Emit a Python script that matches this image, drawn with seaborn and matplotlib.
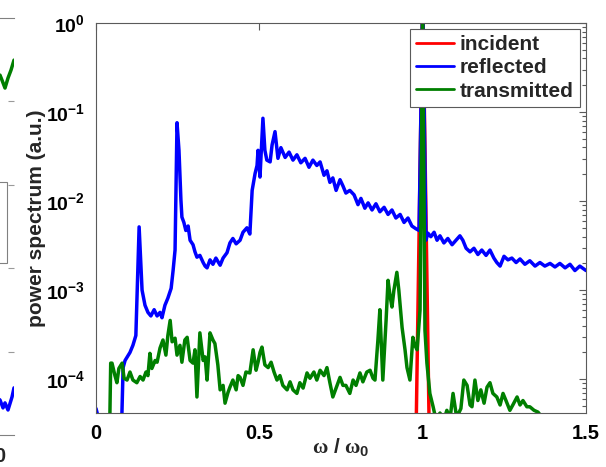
import numpy as np
import pandas as pd
import matplotlib
matplotlib.use("Agg")
import matplotlib.pyplot as plt
from matplotlib.ticker import LogLocator, NullLocator, FixedLocator
from matplotlib.patches import Rectangle
import seaborn as sns

sns.set_style("white")
plt.rcParams['font.family'] = ['Liberation Sans', 'DejaVu Sans']
plt.rcParams['font.weight'] = 'bold'
plt.rcParams['mathtext.fontset'] = 'custom'
plt.rcParams['mathtext.bf'] = 'Liberation Sans:bold'
plt.rcParams['mathtext.rm'] = 'Liberation Serif'
plt.rcParams['mathtext.it'] = 'Liberation Serif'

# ---------------- data (omega / omega0, log10 of power) ----------------
series_names = ["incident", "reflected", "transmitted"]
series_colors = ["#ff0000", "#0000ff", "#007f00"]

inc_x = [0.0, 0.90, 0.97, 1.00, 1.03, 1.10, 1.50]
inc_log = [-8.0, -8.0, -7.0, 0.3, -7.0, -8.0, -8.0]

refl_x = [0.000, 0.009, 0.020, 0.075, 0.083, 0.089, 0.104, 0.113, 0.122, 0.132, 0.138, 0.141,
          0.150, 0.159, 0.168, 0.178, 0.187, 0.196, 0.202, 0.211, 0.220, 0.230, 0.236, 0.242,
          0.248, 0.254, 0.260, 0.263, 0.269, 0.275, 0.282, 0.288, 0.297, 0.303, 0.309, 0.318,
          0.328, 0.334, 0.340, 0.349, 0.358, 0.367, 0.380, 0.389, 0.401, 0.410, 0.419, 0.429,
          0.441, 0.450, 0.462, 0.471, 0.478, 0.487, 0.493, 0.496, 0.502, 0.511, 0.517, 0.523,
          0.533, 0.539, 0.548, 0.557, 0.566, 0.579, 0.591, 0.603, 0.615, 0.627, 0.640, 0.652,
          0.664, 0.676, 0.686, 0.698, 0.707, 0.716, 0.725, 0.735, 0.747, 0.756, 0.765, 0.777,
          0.790, 0.802, 0.811, 0.823, 0.833, 0.845, 0.857, 0.869, 0.882, 0.894, 0.906, 0.918,
          0.931, 0.943, 0.955, 0.967, 0.979, 0.989, 1.000, 1.010, 1.016, 1.025, 1.035, 1.044,
          1.053, 1.065, 1.077, 1.090, 1.102, 1.114, 1.123, 1.133, 1.145, 1.157, 1.169, 1.181,
          1.194, 1.206, 1.218, 1.227, 1.237, 1.249, 1.261, 1.273, 1.286, 1.298, 1.313, 1.328,
          1.344, 1.359, 1.374, 1.390, 1.405, 1.420, 1.436, 1.451, 1.466, 1.481, 1.500]
refl_log = [-4.33, -4.46, -5.0, -5.0, -3.87, -3.79, -3.70, -3.62, -3.51, -2.29, -2.78, -3.00,
            -3.17, -3.25, -3.29, -3.22, -3.29, -3.25, -3.31, -3.17, -3.09, -2.98, -2.78, -2.55,
            -1.12, -1.43, -1.99, -2.18, -2.24, -2.33, -2.28, -2.44, -2.49, -2.57, -2.63, -2.61,
            -2.69, -2.73, -2.75, -2.66, -2.71, -2.64, -2.72, -2.64, -2.58, -2.47, -2.42, -2.48,
            -2.44, -2.35, -2.30, -2.37, -1.88, -1.69, -1.60, -1.43, -1.73, -1.07, -1.43, -1.54,
            -1.56, -1.37, -1.22, -1.52, -1.40, -1.51, -1.45, -1.54, -1.48, -1.57, -1.52, -1.62,
            -1.54, -1.60, -1.56, -1.71, -1.66, -1.79, -1.74, -1.88, -1.76, -1.83, -1.91, -1.88,
            -1.93, -2.04, -1.97, -2.08, -2.02, -2.10, -2.03, -2.12, -2.07, -2.15, -2.10, -2.19,
            -2.15, -2.24, -2.19, -2.28, -2.31, -2.33, 0.30, -2.44, -2.36, -2.40, -2.35, -2.44,
            -2.39, -2.47, -2.42, -2.49, -2.44, -2.39, -2.44, -2.53, -2.57, -2.53, -2.60, -2.55,
            -2.61, -2.55, -2.64, -2.69, -2.73, -2.62, -2.66, -2.64, -2.69, -2.65, -2.71, -2.67,
            -2.73, -2.69, -2.73, -2.70, -2.74, -2.70, -2.75, -2.71, -2.78, -2.73, -2.78]

trans_x = [0.000, 0.040, 0.045, 0.049, 0.058, 0.064, 0.070, 0.080, 0.086, 0.095, 0.104, 0.113,
           0.125, 0.135, 0.144, 0.153, 0.159, 0.165, 0.171, 0.181, 0.187, 0.196, 0.205, 0.214,
           0.220, 0.227, 0.233, 0.242, 0.248, 0.257, 0.263, 0.272, 0.279, 0.288, 0.297, 0.303,
           0.309, 0.318, 0.328, 0.334, 0.340, 0.349, 0.358, 0.364, 0.373, 0.380, 0.389, 0.395,
           0.404, 0.410, 0.419, 0.429, 0.435, 0.441, 0.450, 0.459, 0.471, 0.481, 0.490, 0.496,
           0.502, 0.508, 0.517, 0.527, 0.536, 0.545, 0.554, 0.563, 0.572, 0.585, 0.594, 0.603,
           0.615, 0.624, 0.634, 0.646, 0.655, 0.667, 0.676, 0.686, 0.698, 0.707, 0.716, 0.725,
           0.735, 0.747, 0.756, 0.765, 0.777, 0.787, 0.796, 0.808, 0.817, 0.829, 0.839, 0.848,
           0.854, 0.863, 0.869, 0.878, 0.888, 0.894, 0.900, 0.906, 0.912, 0.921, 0.927, 0.937,
           0.946, 0.952, 0.961, 0.970, 0.976, 0.983, 0.992, 1.000, 1.007, 1.013, 1.022, 1.032,
           1.041, 1.053, 1.065, 1.074, 1.084, 1.093, 1.102, 1.108, 1.117, 1.126, 1.136, 1.145,
           1.151, 1.160, 1.169, 1.178, 1.188, 1.197, 1.206, 1.215, 1.227, 1.237, 1.246, 1.255,
           1.267, 1.276, 1.289, 1.298, 1.307, 1.319, 1.328, 1.341, 1.353, 1.368, 1.384, 1.500]
trans_log = [-5.0, -5.0, -3.82, -3.82, -3.96, -4.04, -3.88, -3.82, -3.99, -4.01, -3.92, -4.01,
             -4.04, -3.97, -4.01, -3.92, -3.96, -3.71, -3.88, -3.79, -3.81, -3.65, -3.56, -3.73,
             -3.51, -3.34, -3.58, -3.54, -3.73, -3.62, -3.81, -3.56, -3.53, -3.79, -3.82, -3.67,
             -4.20, -3.48, -3.79, -3.75, -4.01, -3.48, -3.56, -3.60, -3.84, -4.12, -4.07, -4.27,
             -4.15, -4.09, -4.01, -4.12, -3.96, -3.98, -4.07, -3.92, -3.93, -3.67, -3.90, -3.81,
             -3.70, -3.64, -3.84, -3.87, -3.81, -3.92, -4.01, -3.96, -4.07, -4.12, -4.03, -4.12,
             -4.16, -4.04, -4.10, -3.93, -3.99, -3.92, -4.01, -3.90, -3.96, -3.87, -4.04, -4.20,
             -4.10, -3.98, -4.07, -4.07, -4.16, -4.01, -4.07, -3.93, -4.03, -3.92, -3.90, -3.99,
             -4.01, -3.56, -3.22, -4.01, -3.34, -2.89, -3.06, -3.19, -3.00, -2.80, -3.00, -3.42,
             -3.67, -3.87, -4.01, -3.53, -3.62, -3.67, -3.22, 0.20, -3.45, -3.82, -4.16, -4.31,
             -4.46, -4.38, -4.46, -4.35, -4.44, -4.16, -4.38, -4.40, -4.33, -4.01, -4.07, -4.29,
             -4.31, -4.01, -4.24, -4.12, -4.27, -4.09, -4.04, -4.16, -4.20, -4.29, -4.16, -4.24,
             -4.35, -4.29, -4.20, -4.29, -4.24, -4.31, -4.31, -4.35, -4.37, -4.44, -4.60, -5.0]

y_ticks = [1e-4, 1e-3, 1e-2, 1e-1, 1e0]
y_tick_labels = [r'$\mathbf{10^{-4}}$', r'$\mathbf{10^{-3}}$', r'$\mathbf{10^{-2}}$',
                 r'$\mathbf{10^{-1}}$', r'$\mathbf{10^{0}}$']
x_ticks = [0, 0.5, 1, 1.5]
x_tick_labels = ["0", "0.5", "1", "1.5"]

# fragment of neighbouring panel at the left edge
frag_green_x = [39.6, 40.6, 40.8, 41.1, 41.4, 41.7, 42.0]
frag_green_y = [0.85, 0.863, 0.851, 0.832, 0.856, 0.875, 0.899]
frag_blue_x = [39.6, 40.6, 40.9, 41.1, 41.4, 41.8, 42.0]
frag_blue_y = [0.10, 0.084, 0.065, 0.077, 0.060, 0.091, 0.113]
frag_x_ticks = [40.55]
frag_x_tick_labels = ["0"]

# ---------------- build frame ----------------
frames = []
for name, xs, ls in zip(series_names, [inc_x, refl_x, trans_x], [inc_log, refl_log, trans_log]):
    frames.append(pd.DataFrame({"omega": xs, "power": 10.0 ** np.array(ls), "series": name}))
df = pd.concat(frames, ignore_index=True)

W, H = 606, 467
fig = plt.figure(figsize=(W / 100, H / 100), dpi=100)

spine_col = "#5a5a5a"
LW = 2.5

# left fragment axes
axl = fig.add_axes([-406 / W, 1 - 435 / H, 420 / W, 417 / H])
sns.lineplot(x=frag_green_x, y=frag_green_y, color="#007f00", lw=LW, ax=axl)
sns.lineplot(x=frag_blue_x, y=frag_blue_y, color="#0000ff", lw=LW, ax=axl)
axl.set_xlim(0, 42)
axl.set_ylim(0, 1)
axl.set_xticks(frag_x_ticks)
axl.set_xticklabels(frag_x_tick_labels, fontsize=14.5, fontweight='bold')
axl.set_yticks([0.2, 0.4, 0.6, 0.8])
axl.tick_params(axis='y', left=False, right=True, labelleft=False, direction='in',
                length=4, color="#9a9a9a")
axl.tick_params(axis='x', direction='in', length=0, pad=9, color=spine_col)
for s in ["left", "right"]:
    axl.spines[s].set_visible(False)
for s in ["top", "bottom"]:
    axl.spines[s].set_color("#808080")
    axl.spines[s].set_linewidth(0.8)
axl.add_patch(Rectangle((0.70, 0.412), 0.283, 0.195, transform=axl.transAxes,
                        fill=False, edgecolor="#808080", lw=0.8))

# main axes
ax = fig.add_axes([96 / W, 1 - 413 / H, 490 / W, 390 / H])
sns.lineplot(data=df, x="omega", y="power", hue="series", hue_order=series_names,
             palette=dict(zip(series_names, series_colors)), estimator=None, sort=False,
             lw=LW, ax=ax, legend=False)
ax.set_yscale("log")
ax.set_xlim(0, 1.5)
ax.set_ylim(10 ** -4.38, 1)

ax.xaxis.set_major_locator(FixedLocator(x_ticks))
ax.set_xticklabels(x_tick_labels, fontsize=14.5, fontweight='bold')
ax.xaxis.set_minor_locator(NullLocator())
ax.yaxis.set_major_locator(FixedLocator(y_ticks))
ax.set_yticklabels(y_tick_labels, fontsize=14)
ax.yaxis.set_minor_locator(LogLocator(base=10, subs=np.arange(2, 10), numticks=20))

ax.tick_params(which='both', direction='in', top=True, right=True, color=spine_col,
               labelcolor='black', width=0.8)
ax.tick_params(which='major', length=5)
ax.tick_params(which='minor', length=3)
ax.tick_params(axis='y', pad=8)
ax.tick_params(axis='x', pad=8)
for s in ax.spines.values():
    s.set_color(spine_col)
    s.set_linewidth(0.8)

ax.set_ylabel("power spectrum (a.u.)", fontsize=15, fontweight='bold')
ax.yaxis.set_label_coords((46 - 96) / 490, 0.5)
ax.set_xlabel(r'$\omega$ / $\omega_{\mathbf{0}}$', fontsize=15, fontweight='bold')
ax.xaxis.set_label_coords(0.5, -(436 - 413) / 390)

handles = ax.get_lines()[:3]
leg = ax.legend(handles, series_names, loc='upper right', bbox_to_anchor=(0.9878, 0.9846),
                borderaxespad=0, frameon=True, fancybox=False, framealpha=1,
                edgecolor=spine_col, prop={'weight': 'bold', 'size': 15},
                handlelength=1.8, handletextpad=0.3, borderpad=0.3, labelspacing=0.2)
leg.get_frame().set_linewidth(0.8)
for ln in leg.get_lines():
    ln.set_linewidth(2.0)

fig.savefig("out.png", dpi=100)
